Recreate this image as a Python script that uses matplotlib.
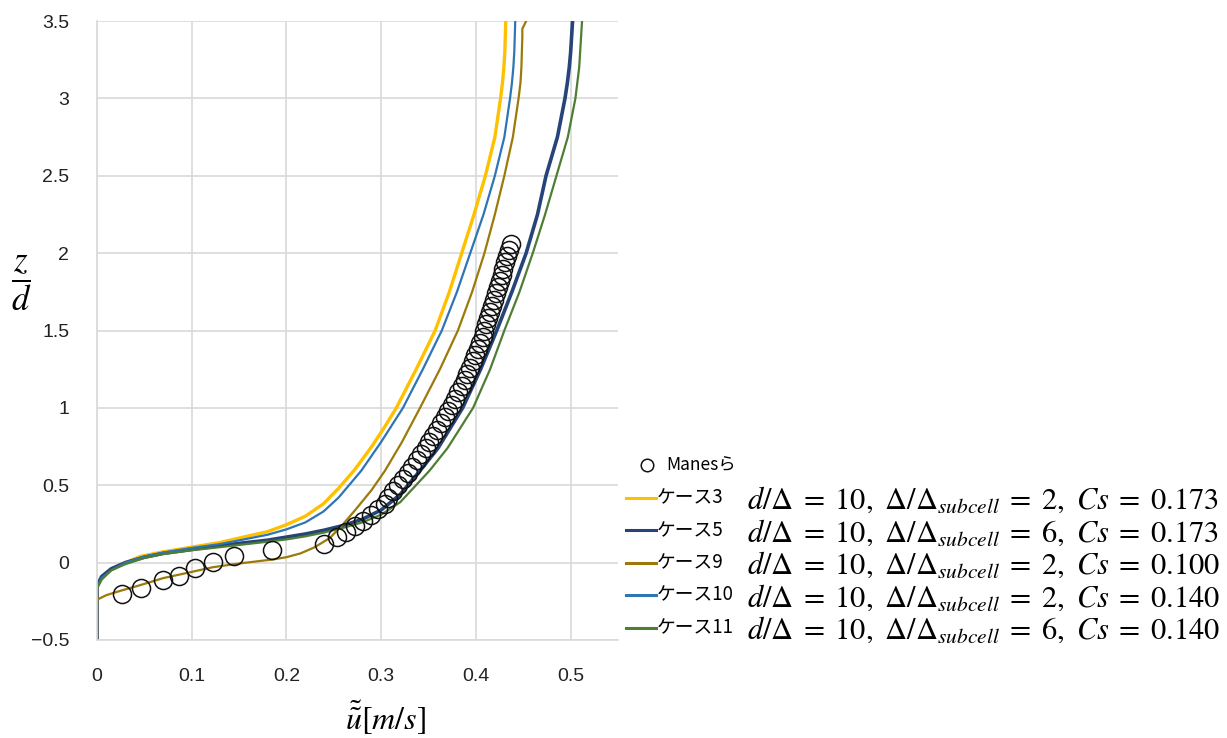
import matplotlib
matplotlib.use("Agg")
import matplotlib.pyplot as plt
from matplotlib.lines import Line2D

plt.rcParams['font.family'] = ['Liberation Sans', 'Noto Sans CJK JP', 'DejaVu Sans']
plt.rcParams['mathtext.fontset'] = 'stix'

# ---- データ ----
# Manesら 実験値
manes_u = [0.026, 0.046, 0.070, 0.087, 0.104, 0.122, 0.145, 0.185, 0.240, 0.253,
           0.263, 0.272, 0.281, 0.289, 0.297, 0.304,
           0.307, 0.312, 0.318, 0.323, 0.328, 0.333, 0.338, 0.342, 0.347, 0.351,
           0.355, 0.359, 0.363, 0.367, 0.371, 0.375, 0.378, 0.381, 0.385, 0.388,
           0.391, 0.394, 0.397, 0.399, 0.402, 0.404, 0.407, 0.409, 0.411, 0.413,
           0.415, 0.417, 0.419, 0.421, 0.423, 0.425, 0.427, 0.429, 0.431, 0.433,
           0.435, 0.437]
manes_z = [-0.20, -0.165, -0.11, -0.084, -0.037, 0.002, 0.045, 0.082, 0.12, 0.163,
           0.196, 0.235, 0.27, 0.31, 0.347, 0.38,
           0.42, 0.46, 0.50, 0.54, 0.58, 0.62, 0.66, 0.70, 0.74, 0.78,
           0.82, 0.86, 0.90, 0.94, 0.98, 1.02, 1.06, 1.10, 1.14, 1.18,
           1.22, 1.26, 1.30, 1.34, 1.38, 1.42, 1.46, 1.50, 1.54, 1.58,
           1.62, 1.66, 1.70, 1.74, 1.78, 1.82, 1.86, 1.90, 1.94, 1.98,
           2.02, 2.06]

# ケース3
case3_u = [0, 0, 0.005, 0.014, 0.03, 0.046, 0.07, 0.1, 0.13, 0.151, 0.18, 0.2, 0.22,
           0.239, 0.255, 0.272, 0.29, 0.304, 0.316, 0.337, 0.357, 0.372, 0.385,
           0.398, 0.41, 0.42, 0.426, 0.428, 0.4295, 0.4305, 0.431, 0.4315]
case3_z = [-0.5, -0.15, -0.10, -0.05, 0.0, 0.04, 0.07, 0.10, 0.13, 0.16, 0.20, 0.245, 0.30,
           0.38, 0.48, 0.6, 0.75, 0.88, 1.0, 1.25, 1.5, 1.75, 2.0,
           2.25, 2.5, 2.75, 3.0, 3.1, 3.2, 3.3, 3.4, 3.5]
# ケース5
case5_u = [0, 0, 0.005, 0.015, 0.03, 0.05, 0.07, 0.1, 0.13, 0.151, 0.18, 0.2, 0.22,
           0.24, 0.26, 0.28, 0.3, 0.32, 0.341, 0.36, 0.386, 0.405, 0.422, 0.438,
           0.453, 0.465, 0.474, 0.486, 0.494, 0.4965, 0.4985, 0.500, 0.501, 0.502]
case5_z = [-0.5, -0.15, -0.09, -0.04, 0.0, 0.035, 0.06, 0.085, 0.11, 0.125, 0.145, 0.165, 0.185,
           0.21, 0.24, 0.28, 0.34, 0.44, 0.594, 0.74, 1.0, 1.25, 1.5, 1.75,
           2.0, 2.25, 2.5, 2.75, 3.0, 3.1, 3.2, 3.3, 3.4, 3.5]
# ケース9
case9_u = [0, 0, 0.01, 0.026, 0.046, 0.07, 0.1, 0.122, 0.151, 0.185, 0.2, 0.215, 0.23,
           0.246, 0.26, 0.274, 0.29, 0.304, 0.322, 0.341, 0.362, 0.381, 0.396, 0.409,
           0.42, 0.43, 0.439, 0.445, 0.447, 0.448, 0.4485, 0.449, 0.449, 0.453]
case9_z = [-0.5, -0.24, -0.21, -0.18, -0.145, -0.1, -0.06, -0.03, -0.005, 0.02, 0.035, 0.06, 0.10,
           0.16, 0.25, 0.35, 0.47, 0.594, 0.78, 1.0, 1.25, 1.5, 1.75, 2.0,
           2.25, 2.5, 2.75, 3.0, 3.1, 3.2, 3.3, 3.4, 3.45, 3.5]
# ケース10
case10_u = [0, 0, 0.005, 0.015, 0.03, 0.05, 0.07, 0.1, 0.13, 0.151, 0.18, 0.2, 0.22,
            0.239, 0.255, 0.279, 0.30, 0.323, 0.344, 0.364, 0.38, 0.394, 0.408,
            0.42, 0.43, 0.436, 0.438, 0.4395, 0.4405, 0.441, 0.4415]
case10_z = [-0.5, -0.16, -0.10, -0.05, 0.0, 0.04, 0.065, 0.095, 0.12, 0.145, 0.18, 0.215, 0.26,
            0.33, 0.42, 0.594, 0.78, 1.0, 1.25, 1.5, 1.75, 2.0, 2.25,
            2.5, 2.75, 3.0, 3.1, 3.2, 3.3, 3.4, 3.5]
# ケース11
case11_u = [0, 0, 0.005, 0.015, 0.03, 0.05, 0.07, 0.1, 0.13, 0.151, 0.18, 0.2, 0.22,
            0.24, 0.26, 0.28, 0.3, 0.32, 0.351, 0.37, 0.397, 0.415, 0.43, 0.446,
            0.46, 0.473, 0.485, 0.497, 0.505, 0.507, 0.509, 0.510, 0.511, 0.512]
case11_z = [-0.5, -0.17, -0.11, -0.05, -0.01, 0.03, 0.055, 0.08, 0.10, 0.115, 0.135, 0.15, 0.17,
            0.195, 0.225, 0.26, 0.31, 0.39, 0.594, 0.74, 1.0, 1.25, 1.5, 1.75,
            2.0, 2.25, 2.5, 2.75, 3.0, 3.1, 3.2, 3.3, 3.4, 3.5]

case_names = ['ケース3', 'ケース5', 'ケース9', 'ケース10', 'ケース11']
case_desc = [r'$d/\Delta\;=\;10,\ \Delta/\Delta_{subcell}\;=\;2,\ Cs\;=\;0.173$',
             r'$d/\Delta\;=\;10,\ \Delta/\Delta_{subcell}\;=\;6,\ Cs\;=\;0.173$',
             r'$d/\Delta\;=\;10,\ \Delta/\Delta_{subcell}\;=\;2,\ Cs\;=\;0.100$',
             r'$d/\Delta\;=\;10,\ \Delta/\Delta_{subcell}\;=\;2,\ Cs\;=\;0.140$',
             r'$d/\Delta\;=\;10,\ \Delta/\Delta_{subcell}\;=\;6,\ Cs\;=\;0.140$']
case_colors = ['#FFC000', '#264478', '#9C7A0A', '#2E75B6', '#4E7D34']
case_widths = [2.4, 2.6, 1.6, 1.6, 1.6]
cases = [(case3_u, case3_z), (case5_u, case5_z), (case9_u, case9_z),
         (case10_u, case10_z), (case11_u, case11_z)]

# ---- 図 ----
fig = plt.figure(figsize=(12.27, 7.38), dpi=100)
ax = fig.add_axes([0.079, 0.1328, 0.4247, 0.8387])

ax.plot(manes_u, manes_z, linestyle='none', marker='o', markersize=13,
        markerfacecolor='none', markeredgecolor='#111111', markeredgewidth=1.1, zorder=3)
for (u, z), c, lw in zip(cases, case_colors, case_widths):
    ax.plot(u, z, color=c, linewidth=lw, zorder=2, solid_joinstyle='round')

ax.set_xlim(0, 0.55)
ax.set_ylim(-0.5, 3.5)
ax.set_xticks([0, 0.1, 0.2, 0.3, 0.4, 0.5])
ax.set_xticklabels(['0', '0.1', '0.2', '0.3', '0.4', '0.5'])
ax.set_yticks([-0.5, 0, 0.5, 1, 1.5, 2, 2.5, 3, 3.5])
ax.set_yticklabels(['\u22120.5', '0', '0.5', '1', '1.5', '2', '2.5', '3', '3.5'])
ax.tick_params(length=0, labelsize=14, colors='#222222')
ax.tick_params(axis='y', pad=20)
ax.tick_params(axis='x', pad=20)
ax.grid(True, color='#D9D9D9', linewidth=1.2)
ax.set_axisbelow(True)
for s in ['top', 'right']:
    ax.spines[s].set_visible(False)
for s in ['left', 'bottom']:
    ax.spines[s].set_color('#D9D9D9')
    ax.spines[s].set_linewidth(1.2)

fig.text(0.017, 0.617, r'$\dfrac{z}{d}$', fontsize=25, ha='center', va='center')
fig.text(0.314, 0.027, r'$\tilde{\tilde{u}}[m/s]$', fontsize=23, ha='center', va='center')

# ---- 凡例 ----
def fy(py):
    return 1 - py / 738

fig.add_artist(Line2D([647 / 1227], [fy(465)], marker='o', markersize=9,
                      markerfacecolor='none', markeredgecolor='#111111',
                      markeredgewidth=1.1, transform=fig.transFigure))
fig.text(666 / 1227, fy(465), 'Manesら', fontsize=12.5, va='center',
         family=['Noto Sans CJK JP', 'DejaVu Sans'])
for i, (name, desc, c, lw) in enumerate(zip(case_names, case_desc, case_colors, case_widths)):
    y = fy(498 + i * 32.4)
    fig.add_artist(Line2D([626 / 1227, 656 / 1227], [y, y], color=c, linewidth=2.2,
                          transform=fig.transFigure))
    fig.text(657 / 1227, y, name, fontsize=13.5, va='center',
             family=['Noto Sans CJK JP', 'DejaVu Sans'])
    fig.text(747 / 1227, y - 0.004, desc, fontsize=22, va='center')

fig.savefig('out.png', dpi=100)
